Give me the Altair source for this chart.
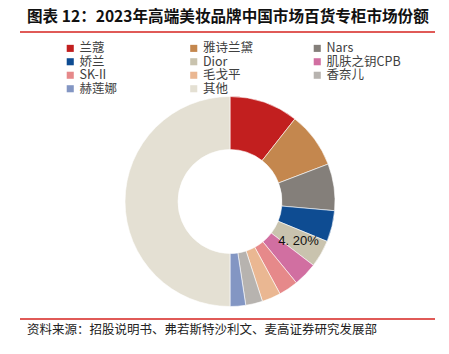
import altair as alt
import pandas as pd

brands = ["兰蔻", "雅诗兰黛", "Nars", "娇兰", "Dior", "肌肤之钥CPB", "SK-II", "毛戈平", "香奈儿", "赫莲娜", "其他"]
shares = [10.6, 8.6, 7.2, 4.8, 4.2, 3.7, 3.0, 2.9, 2.6, 2.4, 50.0]
colors = ["#C21F1F", "#C4874E", "#847F7A", "#0E4C92", "#C9C3AE", "#D16FA1",
          "#E6898A", "#EAB792", "#B7B3AF", "#8396C3", "#E4E0D3"]
labels = ["", "", "", "", "4. 20%", "", "", "", "", "", ""]
# legend is laid out column by column; this order reads row by row like the reference
legend_order = ["兰蔻", "娇兰", "SK-II", "赫莲娜", "雅诗兰黛", "Dior", "毛戈平", "其他",
                "Nars", "肌肤之钥CPB", "香奈儿"]

title_text = "图表 12：2023年高端美妆品牌中国市场百货专柜市场份额"
source_text = "资料来源：招股说明书、弗若斯特沙利文、麦高证券研究发展部"

df = pd.DataFrame({"brand": brands, "share": shares, "order": list(range(len(brands))), "label": labels})

CJK = "Noto Sans CJK SC"

base = alt.Chart(df).encode(
    theta=alt.Theta("share:Q", stack=True),
    order=alt.Order("order:Q"),
)

arcs = base.mark_arc(innerRadius=52, outerRadius=105, stroke="white", strokeWidth=0.6,
                     x=230, y=201.5).encode(
    color=alt.Color(
        "brand:N",
        scale=alt.Scale(domain=brands, range=colors),
        legend=alt.Legend(
            title=None, orient="none", legendX=64, legendY=42, columns=3,
            values=legend_order,
            symbolType="square", symbolSize=50, symbolStrokeWidth=0,
            labelFont=CJK, labelFontSize=12.5, labelColor="#404040", labelOffset=3,
            gridAlign="all", columnPadding=33.5, rowPadding=0.5, labelLimit=200,
        ),
    )
)

lbl = base.mark_text(radius=79, fontSize=13, font="Liberation Sans", color="#111111",
                     x=230, y=201.5).encode(text="label:N")

tdf = pd.DataFrame({"t": [title_text]})
title = alt.Chart(tdf).mark_text(align="left", baseline="middle", fontSize=15.6, fontWeight="bold",
                                 font=CJK, color="#111111").encode(
    x=alt.value(27), y=alt.value(17), text="t:N")

sdf = pd.DataFrame({"t": [source_text]})
source = alt.Chart(sdf).mark_text(align="left", baseline="middle", fontSize=12.5,
                                  font=CJK, color="#222222").encode(
    x=alt.value(27), y=alt.value(330), text="t:N")

rule_top = alt.Chart(tdf).mark_rule(color="#E05A57", strokeWidth=2).encode(
    x=alt.value(20), x2=alt.value(435), y=alt.value(32))
rule_bot = alt.Chart(tdf).mark_rule(color="#E05A57", strokeWidth=2).encode(
    x=alt.value(20), x2=alt.value(435), y=alt.value(319))

chart = alt.layer(arcs, lbl, title, source, rule_top, rule_bot).properties(
    width=449, height=354, padding=0, autosize="none"
).configure_view(stroke=None).resolve_scale(color="shared")

chart.save("out.html", embed_options={"renderer": "svg", "actions": False})
